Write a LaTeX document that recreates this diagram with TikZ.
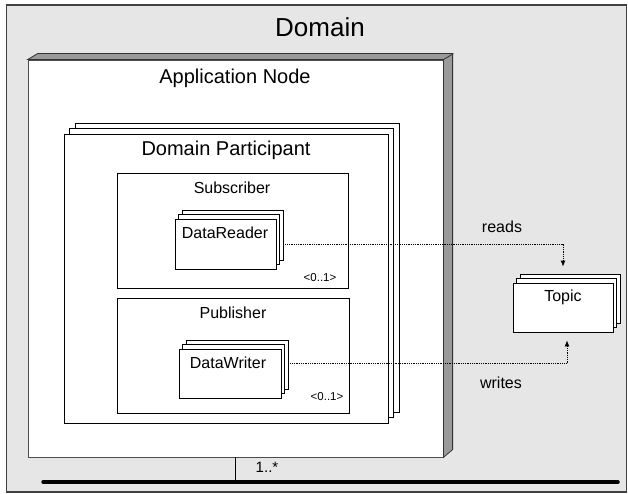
\documentclass[tikz,border=0pt]{standalone}
\usepackage{fontspec}
\setmainfont{Liberation Sans}
\usepackage{tikz}
\usetikzlibrary{shadows,arrows.meta}
\definecolor{domaingray}{HTML}{E6E6E6}
\definecolor{bevelgray}{HTML}{9A9A9A}
\tikzstyle{box} = [rectangle, draw=black, fill=white, inner sep=0pt]
\tikzstyle{stack} = [box, double copy shadow={shadow xshift=3.5pt, shadow yshift=4.5pt, draw=black, fill=white}]
\tikzstyle{bigstack} = [box, double copy shadow={shadow xshift=5.5pt, shadow yshift=5.5pt, draw=black, fill=white}]
\tikzstyle{link} = [densely dotted, -{Latex[length=6pt,width=5pt]}]
\tikzstyle{txt} = [inner sep=0pt, font=\fontsize{16}{19}\selectfont]
\tikzstyle{title} = [inner sep=0pt, font=\fontsize{20}{24}\selectfont]
\tikzstyle{mult} = [inner sep=0pt, font=\fontsize{11.5}{13}\selectfont]

\begin{document}
\begin{tikzpicture}[x=1pt, y=-1pt, line width=0.8pt]
        \useasboundingbox (0,0) rectangle (628,494);
        % domain background
        \node (domain) [box, draw=black!75, fill=domaingray, line width=1.2pt, minimum width=620pt, minimum height=487pt] at (316.5,248.5) {};
        \node (domaintitle) [inner sep=0pt, font=\fontsize{26}{30}\selectfont] at (320,27) {Domain};
        % application node, drawn as a box
        \node (appnode) [box, draw=black!70, minimum width=415pt, minimum height=397pt] at (235.5,258.5) {};
        \draw [draw=black!80, fill=bevelgray] (appnode.north west) -- ++(10,-6) -- ++(415,0) -- ++(0,396) -- (appnode.south east) -- (appnode.north east) -- cycle;
        \draw [black!80] (appnode.north east) -- ++(10,-6);
        \node (apptitle) [title] at (235,78) {Application Node};
        % participant
        \node (participant) [bigstack, minimum width=324pt, minimum height=289pt] at (226,278.5) {};
        \node (parttitle) [title] at (226,150) {Domain Participant};
        % subscriber side
        \node (subscriber) [box, minimum width=231pt, minimum height=115pt] at (232.5,230.5) {};
        \node (subtitle) [txt] at (232,188) {Subscriber};
        \node (reader) [stack, minimum width=101pt, minimum height=50pt] at (225.5,244) {};
        \node (readertext) [txt] at (225,233) {DataReader};
        \node (submult) [mult] at (320,278) {<0..1>};
        % publisher side
        \node (publisher) [box, minimum width=232pt, minimum height=115pt] at (233,355.5) {};
        \node (pubtitle) [txt] at (233,313) {Publisher};
        \node (writer) [stack, minimum width=102pt, minimum height=49pt] at (230,373.5) {};
        \node (writertext) [txt] at (228,363) {DataWriter};
        \node (pubmult) [mult] at (327,397) {<0..1>};
        % topic
        \node (topic) [stack, minimum width=100pt, minimum height=49pt] at (563,307.5) {};
        \node (topictext) [txt] at (563,297) {Topic};
        \draw [link] ([xshift=7pt]reader.east) -| ([yshift=16pt]topic.north);
        \node (reads) [txt] at (502,227) {reads};
        \draw [link] ([xshift=7pt,yshift=10pt]writer.east) -| ([xshift=4pt,yshift=-8pt]topic.south);
        \node (writes) [txt] at (501,383) {writes};
        % network bus
        \coordinate (busleft) at (43,482);
        \coordinate (busright) at (618,482);
        \draw [line width=3.5pt, line cap=round] (busleft) -- (busright);
        \draw (appnode.south) -- ([yshift=-2pt]appnode.south |- busleft);
        \node (busmult) [inner sep=0pt, font=\fontsize{15}{18}\selectfont] at (267,467) {1..*};
\end{tikzpicture}
\end{document}
